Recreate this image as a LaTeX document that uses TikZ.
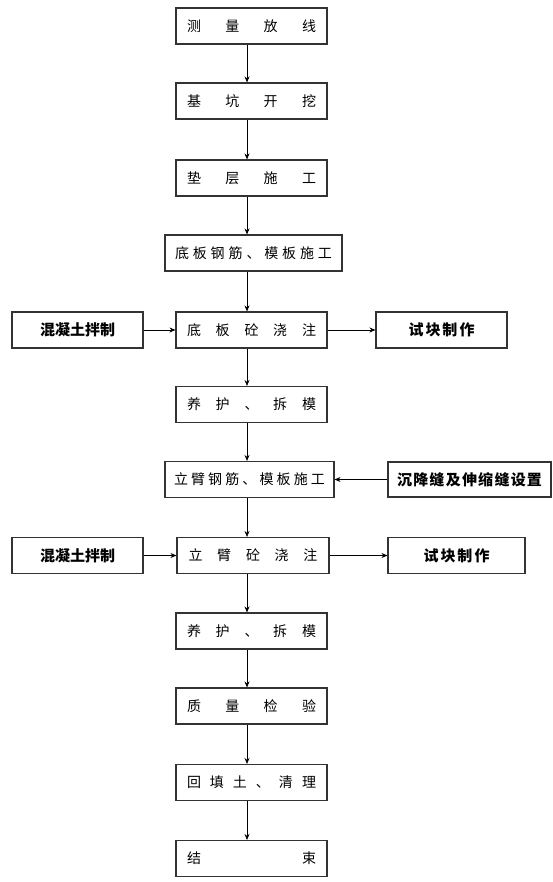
\documentclass[tikz,border=0pt]{standalone}
\usepackage{fontspec}
\newfontfamily\cjk{Noto Sans CJK SC}
\usetikzlibrary{arrows.meta}
\newcommand{\spr}[2]{\makebox[#1pt]{#2}}
\tikzset{
  box/.style={draw=black!80, line width=1.1pt, inner sep=0pt, minimum height=36pt,
              font=\cjk\fontsize{14}{14}\selectfont},
  sidebox/.style={box, font=\cjk\bfseries\fontsize{15}{15}\selectfont},
  conn/.style={-{Stealth[length=6pt,width=5pt]}, line width=0.8pt, black}
}
\begin{document}
\begin{tikzpicture}[x=1pt,y=-1pt]
\useasboundingbox (0,0) rectangle (553,882);
\coordinate (ax) at (247,0);
% main column
\node[box, minimum width=151pt] (n1) at (251.5,26) {\spr{129}{测\hfill 量\hfill 放\hfill 线}};
\node[box, minimum width=151pt] (n2) at (251.5,101) {\spr{129}{基\hfill 坑\hfill 开\hfill 挖}};
\node[box, minimum width=151pt] (n3) at (251.5,178) {\spr{129}{垫\hfill 层\hfill 施\hfill 工}};
\node[box, minimum width=177pt] (n4) at (253.5,253) {\spr{157}{底\hfill 板\hfill 钢\hfill 筋\hfill 、\hfill 模\hfill 板\hfill 施\hfill 工}};
\node[box, minimum width=151pt] (n5) at (251.5,330) {\spr{129}{底\hfill 板\hfill 砼\hfill 浇\hfill 注}};
\node[box, minimum width=151pt] (n6) at (251.5,404.5) {\spr{129}{养\hfill 护\hfill 、\hfill 拆\hfill 模}};
\node[box, minimum width=169pt] (n7) at (249.5,479.5) {\spr{151}{立\hfill 臂\hfill 钢\hfill 筋\hfill 、\hfill 模\hfill 板\hfill 施\hfill 工}};
\node[box, minimum width=152pt] (n8) at (253,555.5) {\spr{129}{立\hfill 臂\hfill 砼\hfill 浇\hfill 注}};
\node[box, minimum width=151pt] (n9) at (251.5,631) {\spr{129}{养\hfill 护\hfill 、\hfill 拆\hfill 模}};
\node[box, minimum width=151pt] (n10) at (251.5,706) {\spr{129}{质\hfill 量\hfill 检\hfill 验}};
\node[box, minimum width=151pt] (n11) at (251.5,782.5) {\spr{129}{回\hfill 填\hfill 土\hfill 、\hfill 清\hfill 理}};
\node[box, minimum width=151pt] (n12) at (251.5,858.5) {\spr{129}{结\hfill 束}};
% side boxes
\node[sidebox, minimum width=131pt] (l1) at (77.5,330) {混凝土拌制};
\node[sidebox, minimum width=131pt] (r1) at (441.5,330) {\spr{66}{试\hfill 块\hfill 制\hfill 作}};
\node[sidebox, minimum width=163pt, minimum height=35pt] (r2) at (469.5,479.5) {\spr{145}{沉\hfill 降\hfill 缝\hfill 及\hfill 伸\hfill 缩\hfill 缝\hfill 设\hfill 置}};
\node[sidebox, minimum width=131pt] (l2) at (77.5,555.5) {混凝土拌制};
\node[sidebox, minimum width=137pt] (r3) at (456.5,555.5) {\spr{66}{试\hfill 块\hfill 制\hfill 作}};
% vertical connectors
\foreach \a/\b in {n1/n2,n2/n3,n3/n4,n4/n5,n5/n6,n6/n7,n7/n8,n8/n9,n9/n10,n10/n11,n11/n12}
  \draw[conn] (\a.south -| ax) -- (\b.north -| ax);
% horizontal connectors
\draw[conn] (l1) -- (n5);
\draw[conn] (n5) -- (r1);
\draw[conn] (r2) -- (n7);
\draw[conn] (l2) -- (n8);
\draw[conn] (n8) -- (r3);
\end{tikzpicture}
\end{document}
